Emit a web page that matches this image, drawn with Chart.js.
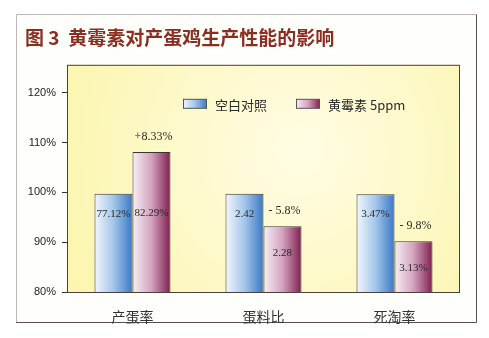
<!DOCTYPE html>
<html>
<head>
<meta charset="utf-8">
<script src="https://cdn.jsdelivr.net/npm/chart.js@4.4.0/dist/chart.umd.min.js"></script>
<style>
  html, body { margin: 0; padding: 0; background: #ffffff; }
  #wrap { width: 489px; height: 338px; }
</style>
</head>
<body>
<div id="wrap"><canvas id="chart" width="489" height="338"></canvas></div>
<script>
// chart data
const categories = ['产蛋率', '蛋料比', '死淘率'];
const seriesNames = ['空白对照', '黄霉素 5ppm'];
const controlValues = [99.7, 99.7, 99.6];
const treatValues = [108.1, 93.2, 90.2];
const controlLabels = ['77.12%', '2.42', '3.47%'];
const treatLabels = ['82.29%', '2.28', '3.13%'];
const changeLabels = ['+8.33%', '- 5.8%', '- 9.8%'];
const yTicks = [80, 90, 100, 110, 120];

const CAT_PCT = 0.58;
const blueStops = ['#f3f7fc', '#a3c6ea', '#3a78c6'];
const pinkStops = ['#f7f0f4', '#d3a2bf', '#7e1f4e'];

function makeGrad(ctx, x0, x1, stops) {
    const g = ctx.createLinearGradient(x0, 0, x1, 0);
    g.addColorStop(0, stops[0]);
    g.addColorStop(0.5, stops[1]);
    g.addColorStop(1, stops[2]);
    return g;
}

// horizontal gradient for each bar, placed from the x scale
function barFill(stops, side) {
    return function (c) {
        const chart = c.chart;
        const xs = chart.scales.x;
        if (!xs || c.dataIndex === undefined) return stops[1];
        const center = xs.getPixelForValue(c.dataIndex);
        const w = xs.width / categories.length * CAT_PCT / 2;
        const left = side === 0 ? center - w : center;
        if (!isFinite(left) || !isFinite(w) || w <= 0) return stops[1];
        return makeGrad(chart.ctx, left, left + w, stops);
    };
}

const decor = {
    id: 'decor',
    beforeDraw(chart) {
        const ctx = chart.ctx;
        const a = chart.chartArea;
        ctx.save();
        ctx.fillStyle = '#ffffff';
        ctx.fillRect(0, 0, chart.width, chart.height);
        // outer panel
        ctx.fillStyle = '#fefefb';
        ctx.fillRect(16, 14, 461, 308);
        ctx.lineWidth = 1;
        ctx.strokeStyle = '#bcb8b8';
        ctx.beginPath();
        ctx.moveTo(16.5, 322); ctx.lineTo(16.5, 14.5); ctx.lineTo(476.5, 14.5);
        ctx.stroke();
        ctx.strokeStyle = '#5a4e52';
        ctx.beginPath();
        ctx.moveTo(476.5, 14.5); ctx.lineTo(476.5, 322.5); ctx.lineTo(16, 322.5);
        ctx.stroke();
        // plot background
        const g = ctx.createRadialGradient(300, 150, 10, 290, 160, 260);
        g.addColorStop(0, '#fffce2');
        g.addColorStop(1, '#fbf5ac');
        ctx.fillStyle = g;
        ctx.fillRect(a.left, a.top, a.right - a.left, a.bottom - a.top);
        ctx.restore();
    },
    afterDatasetsDraw(chart) {
        const ctx = chart.ctx;
        const a = chart.chartArea;
        ctx.save();
        ctx.strokeStyle = '#4a4040';
        ctx.lineWidth = 1;
        ctx.strokeRect(a.left + 0.5, a.top + 0.5, a.right - a.left - 1, a.bottom - a.top);

        // value labels
        const m0 = chart.getDatasetMeta(0).data;
        const m1 = chart.getDatasetMeta(1).data;
        ctx.font = '11px "Liberation Serif", "DejaVu Serif", serif';
        ctx.fillStyle = '#2a2a2a';
        ctx.textAlign = 'center';
        ctx.textBaseline = 'middle';
        for (let i = 0; i < categories.length; i++) {
            const b = m0[i], p = m1[i];
            ctx.fillText(controlLabels[i], b.x, b.y + 20);
            const py = p.y < b.y ? b.y + 19 : p.y + 27;
            ctx.fillText(treatLabels[i], p.x, py);
            ctx.font = '12px "Liberation Serif", "DejaVu Serif", serif';
            ctx.fillText(changeLabels[i], p.x + 2, p.y - 15);
            ctx.font = '11px "Liberation Serif", "DejaVu Serif", serif';
        }

        // legend
        let lx = a.left + 116;
        const ly = a.top + 39;
        const sets = [blueStops, pinkStops];
        const gaps = [113, 0];
        ctx.textAlign = 'left';
        for (let k = 0; k < seriesNames.length; k++) {
            ctx.fillStyle = makeGrad(ctx, lx, lx + 24, sets[k]);
            ctx.fillRect(lx, ly - 4.5, 24, 9);
            ctx.strokeStyle = '#555';
            ctx.strokeRect(lx + 0.5, ly - 4.5, 23, 9);
            ctx.fillStyle = '#2a2a2a';
            ctx.font = '13px "Noto Sans CJK SC", "Liberation Serif", serif';
            ctx.fillText(seriesNames[k], lx + 32, ly + 1);
            lx += gaps[k];
        }
        ctx.restore();
    }
};

const ctx = document.getElementById('chart').getContext('2d');
new Chart(ctx, {
    type: 'bar',
    data: {
        labels: categories,
        datasets: [
            {
                label: seriesNames[0],
                data: controlValues,
                backgroundColor: barFill(blueStops, 0),
                borderColor: '#3a3434',
                borderWidth: 1,
                borderSkipped: 'start'
            },
            {
                label: seriesNames[1],
                data: treatValues,
                backgroundColor: barFill(pinkStops, 1),
                borderColor: '#3a3434',
                borderWidth: 1,
                borderSkipped: 'start'
            }
        ]
    },
    options: {
        responsive: false,
        animation: false,
        datasets: {
            bar: { categoryPercentage: CAT_PCT, barPercentage: 1 }
        },
        layout: { padding: { top: 26, left: 25, right: 29, bottom: 14 } },
        scales: {
            x: {
                grid: { display: false },
                border: { display: false },
                ticks: {
                    padding: 8,
                    color: '#333',
                    font: { family: '"Noto Sans CJK SC", sans-serif', size: 14 }
                },
                afterFit(s) { s.height = 32; }
            },
            y: {
                min: 80,
                max: 125.6,
                afterBuildTicks(s) { s.ticks = yTicks.map(v => ({ value: v })); },
                grid: { drawOnChartArea: false, drawTicks: true, tickLength: 5, color: '#333' },
                border: { display: false },
                ticks: {
                    padding: 6,
                    color: '#222',
                    font: { family: '"Liberation Sans", Arial, sans-serif', size: 11 },
                    callback: v => v + '%'
                },
                afterFit(s) { s.width = 42; }
            }
        },
        plugins: {
            legend: { display: false },
            tooltip: { enabled: false },
            title: {
                display: true,
                text: '图 3  黄霉素对产蛋鸡生产性能的影响',
                align: 'start',
                color: '#8a2e20',
                font: { family: '"Noto Sans CJK SC", sans-serif', size: 19, weight: 'bold' },
                padding: { top: 0, bottom: 16 }
            }
        }
    },
    plugins: [decor]
});
</script>
</body>
</html>
